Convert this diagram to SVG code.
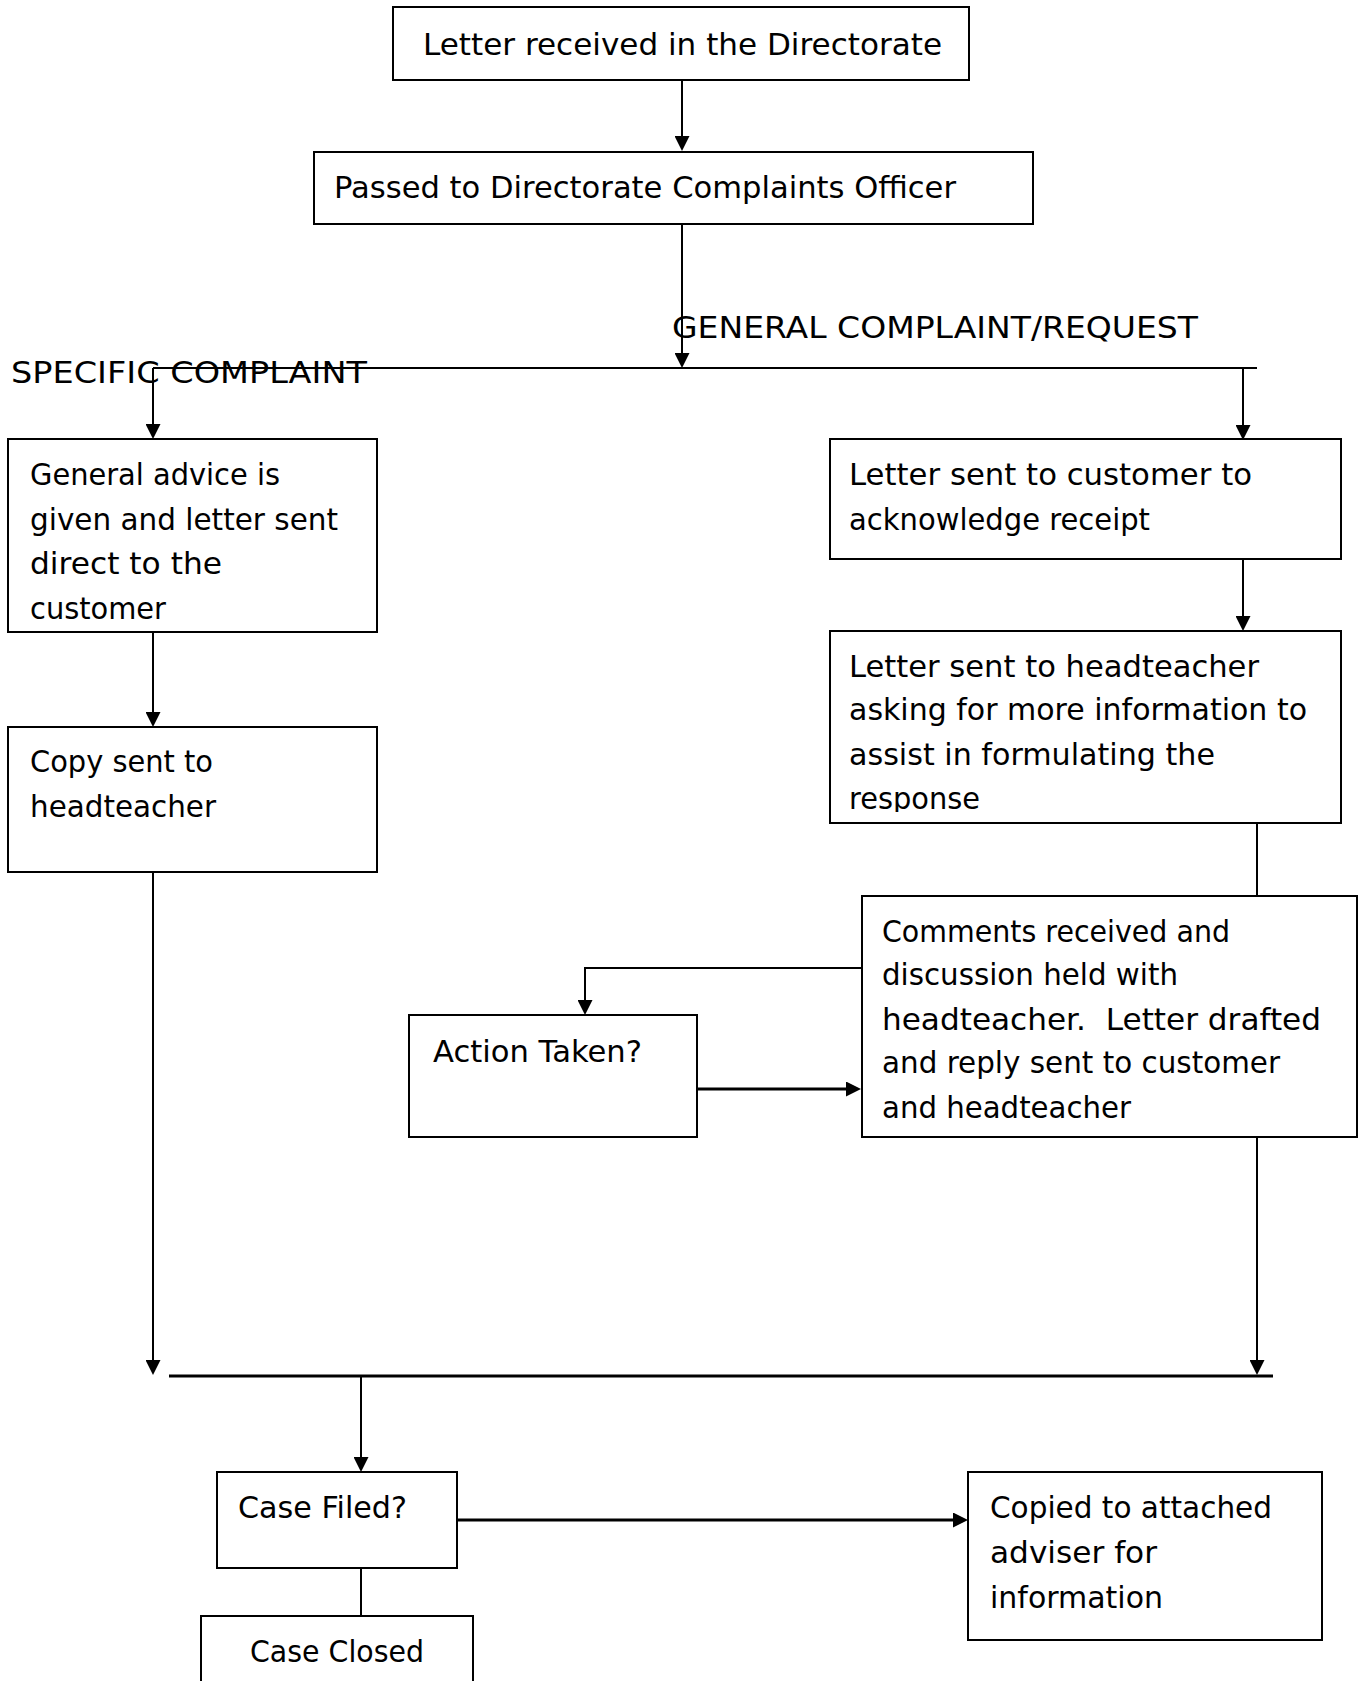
<svg xmlns="http://www.w3.org/2000/svg" width="1365" height="1681" viewBox="0 0 1365 1681">
<style>
rect.box{fill:#fff;stroke:#000;stroke-width:2}
text{font-family:'Comic Sans MS','DejaVu Sans',sans-serif;font-size:31px;fill:#000}
.ln{stroke:#000;stroke-width:2;fill:none}
.thick{stroke:#000;stroke-width:3;fill:none}
</style>
<defs>
<marker id="ah" viewBox="0 0 15 15" refX="7" refY="7.5" markerWidth="15" markerHeight="15" markerUnits="userSpaceOnUse" orient="auto">
<path d="M0,0 L15,7.5 L0,15 z" fill="#000"/>
</marker>
<clipPath id="clipLSH"><rect x="830" y="631" width="512" height="181"/></clipPath>
</defs>
<rect width="1365" height="1681" fill="#fff"/>

<g id="connectors">
<line class="ln" x1="682" y1="80" x2="682" y2="143" marker-end="url(#ah)"/>
<line class="ln" x1="682" y1="224" x2="682" y2="360" marker-end="url(#ah)"/>
<line class="ln" x1="153" y1="368" x2="1257" y2="368"/>
<line class="ln" x1="153" y1="368" x2="153" y2="431" marker-end="url(#ah)"/>
<line class="ln" x1="1243" y1="368" x2="1243" y2="432" marker-end="url(#ah)"/>
<line class="ln" x1="153" y1="632" x2="153" y2="719" marker-end="url(#ah)"/>
<line class="ln" x1="1243" y1="559" x2="1243" y2="623" marker-end="url(#ah)"/>
<line class="ln" x1="1257" y1="823" x2="1257" y2="896"/>
<polyline class="ln" points="862,968 585,968 585,1007" marker-end="url(#ah)"/>
<line class="thick" x1="697" y1="1089" x2="853" y2="1089" marker-end="url(#ah)"/>
<line class="ln" x1="153" y1="872" x2="153" y2="1367" marker-end="url(#ah)"/>
<line class="ln" x1="1257" y1="1137" x2="1257" y2="1367" marker-end="url(#ah)"/>
<line class="thick" x1="169" y1="1376" x2="1273" y2="1376"/>
<line class="ln" x1="361" y1="1376" x2="361" y2="1464" marker-end="url(#ah)"/>
<line class="ln" x1="361" y1="1568" x2="361" y2="1616"/>
<line class="thick" x1="457" y1="1520" x2="960" y2="1520" marker-end="url(#ah)"/>
</g>

<g id="labels">
<text x="672" y="338" textLength="526" lengthAdjust="spacingAndGlyphs">GENERAL COMPLAINT/REQUEST</text>
<text x="11" y="383" textLength="356" lengthAdjust="spacingAndGlyphs">SPECIFIC COMPLAINT</text>
</g>

<g id="n_received">
<rect class="box" x="393" y="7" width="576" height="73"/>
<text x="423" y="55" textLength="519" lengthAdjust="spacingAndGlyphs">Letter received in the Directorate</text>
</g>

<g id="n_passed">
<rect class="box" x="314" y="152" width="719" height="72"/>
<text x="334" y="198" textLength="622" lengthAdjust="spacingAndGlyphs">Passed to Directorate Complaints Officer</text>
</g>

<g id="n_general_advice">
<rect class="box" x="8" y="439" width="369" height="193"/>
<text x="30" y="485" textLength="250" lengthAdjust="spacingAndGlyphs">General advice is</text>
<text x="30" y="530" textLength="308" lengthAdjust="spacingAndGlyphs">given and letter sent</text>
<text x="30" y="574" textLength="192" lengthAdjust="spacingAndGlyphs">direct to the</text>
<text x="30" y="619" textLength="136" lengthAdjust="spacingAndGlyphs">customer</text>
</g>

<g id="n_copy">
<rect class="box" x="8" y="727" width="369" height="145"/>
<text x="30" y="772" textLength="183" lengthAdjust="spacingAndGlyphs">Copy sent to</text>
<text x="30" y="817" textLength="186" lengthAdjust="spacingAndGlyphs">headteacher</text>
</g>

<g id="n_ack">
<rect class="box" x="830" y="439" width="511" height="120"/>
<text x="849" y="485" textLength="403" lengthAdjust="spacingAndGlyphs">Letter sent to customer to</text>
<text x="849" y="530" textLength="301" lengthAdjust="spacingAndGlyphs">acknowledge receipt</text>
</g>

<g id="n_headteacher">
<rect class="box" x="830" y="631" width="511" height="192"/>
<g clip-path="url(#clipLSH)">
<text x="849" y="677" textLength="410" lengthAdjust="spacingAndGlyphs">Letter sent to headteacher</text>
<text x="849" y="720" textLength="458" lengthAdjust="spacingAndGlyphs">asking for more information to</text>
<text x="849" y="765" textLength="366" lengthAdjust="spacingAndGlyphs">assist in formulating the</text>
<text x="849" y="809" textLength="131" lengthAdjust="spacingAndGlyphs">response</text>
</g>
</g>

<g id="n_comments">
<rect class="box" x="862" y="896" width="495" height="241"/>
<text x="882" y="942" textLength="348" lengthAdjust="spacingAndGlyphs">Comments received and</text>
<text x="882" y="985" textLength="296" lengthAdjust="spacingAndGlyphs">discussion held with</text>
<text x="882" y="1030" textLength="439" lengthAdjust="spacingAndGlyphs" xml:space="preserve">headteacher.  Letter drafted</text>
<text x="882" y="1073" textLength="398" lengthAdjust="spacingAndGlyphs">and reply sent to customer</text>
<text x="882" y="1118" textLength="249" lengthAdjust="spacingAndGlyphs">and headteacher</text>
</g>

<g id="n_action">
<rect class="box" x="409" y="1015" width="288" height="122"/>
<text x="433" y="1062" textLength="209" lengthAdjust="spacingAndGlyphs">Action Taken?</text>
</g>

<g id="n_case_filed">
<rect class="box" x="217" y="1472" width="240" height="96"/>
<text x="238" y="1518" textLength="169" lengthAdjust="spacingAndGlyphs">Case Filed?</text>
</g>

<g id="n_case_closed">
<rect class="box" x="201" y="1616" width="272" height="100"/>
<text x="250" y="1662" textLength="174" lengthAdjust="spacingAndGlyphs">Case Closed</text>
</g>

<g id="n_copied">
<rect class="box" x="968" y="1472" width="354" height="168"/>
<text x="990" y="1518" textLength="282" lengthAdjust="spacingAndGlyphs">Copied to attached</text>
<text x="990" y="1563" textLength="167" lengthAdjust="spacingAndGlyphs">adviser for</text>
<text x="990" y="1608" textLength="173" lengthAdjust="spacingAndGlyphs">information</text>
</g>
</svg>
